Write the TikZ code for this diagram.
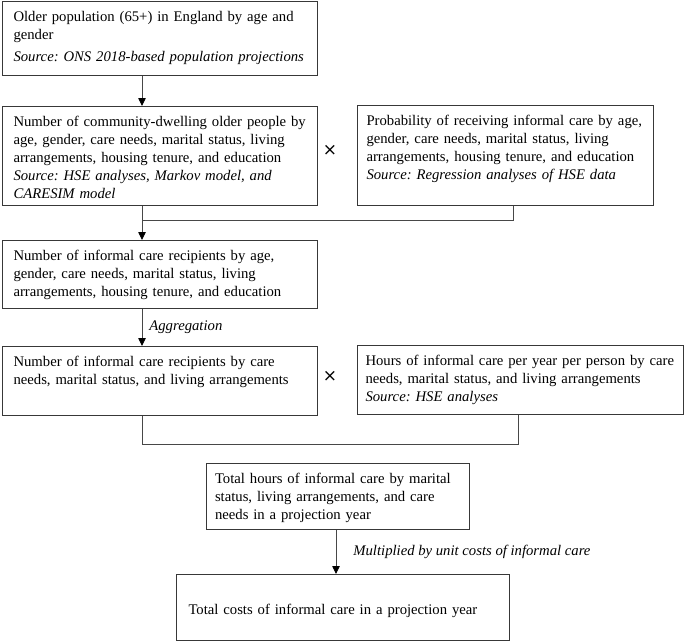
\documentclass[tikz,border=0pt]{standalone}
\usepackage{fontspec}
\setmainfont{Liberation Serif}
\newfontfamily\symfont{DejaVu Sans}
\frenchspacing
\usetikzlibrary{arrows.meta,positioning,calc}

\begin{document}
\begin{tikzpicture}[x=1pt, y=-1pt, >={Triangle[length=8pt,width=7.5pt,black]},
  blk/.style={draw=black!78, line width=1pt, anchor=north west, align=left,
    inner xsep=11pt, inner ysep=5pt, text height=15pt,
    font=\fontsize{14.7}{18}\selectfont},
  link/.style={draw=black!72, line width=0.8pt},
  note/.style={font=\fontsize{14.7}{18}\selectfont\itshape, anchor=west, inner sep=0pt},
  mult/.style={font=\fontsize{17}{17}\selectfont\symfont, inner sep=0pt}]
  \useasboundingbox (0,0) rectangle (685,641);
  \coordinate (spine) at (142,0);
  \coordinate (spinelow) at (336,0);
  \coordinate (dropA) at (513,0);
  \coordinate (dropB) at (518,0);
  \coordinate (join1) at (142,220);
  \coordinate (join2) at (142,444);
  % left column
  \node[blk, text width=293pt, text depth=49pt] (pop) at (2,1)
    {Older population (65+) in England by age and\\ gender\\[4pt]
     \textit{Source: ONS 2018-based population projections}};
  \node[blk, text width=293pt, text depth=74pt] (comm) at (2,106)
    {Number of community-dwelling older people by\\
     age, gender, care needs, marital status, living\\
     arrangements, housing tenure, and education\\
     \textit{Source: HSE analyses, Markov model, and}\\
     \textit{CARESIM model}};
  \node[blk, text width=293pt, text depth=43pt] (recip) at (2,240)
    {Number of informal care recipients by age,\\
     gender, care needs, marital status, living\\
     arrangements, housing tenure, and education};
  \node[blk, text width=293pt, text depth=44pt] (agg) at (2,346)
    {Number of informal care recipients by care\\
     needs, marital status, and living arrangements};
  % right column
  \node[blk, inner xsep=9pt, text width=278pt, text depth=75pt] (prob) at (357,105)
    {Probability of receiving informal care by age,\\
     gender, care needs, marital status, living\\
     arrangements, housing tenure, and education\\
     \textit{Source: Regression analyses of HSE data}};
  \node[blk, inner xsep=8pt, text width=310pt, text depth=44pt] (hrs) at (357,345)
    {Hours of informal care per year per person by care\\
     needs, marital status, and living arrangements\\
     \textit{Source: HSE analyses}};
  % bottom
  \node[blk, inner xsep=8.5pt, text width=246pt, text depth=41pt] (tot) at (206,463)
    {\makebox[246pt][s]{Total hours of informal care by marital}\\
     \makebox[246pt][s]{status, living arrangements, and care}\\
     needs in a projection year};
  \node[blk, inner xsep=12pt, text width=309pt, text height=35pt, text depth=21pt] (cost) at (176,574)
    {Total costs of informal care in a projection year};
  \node[mult] (x1) at (330,150) {×};
  \node[mult] (x2) at (330,376) {×};
  % connectors
  \draw[link,->] (pop.south -| spine) -- (comm.north -| spine);
  \draw[link,->] (comm.south -| spine) -- (recip.north -| spine);
  \draw[link] (prob.south -| dropA) |- (join1);
  \draw[link,->] (recip.south -| spine) --
    node[note, xshift=7pt] (aggtxt) {Aggregation} (agg.north -| spine);
  \draw[link] (agg.south -| spine) -- (join2) -| (hrs.south -| dropB);
  \draw[link,->] (tot.south -| spinelow) --
    node[note, xshift=17pt] (unittxt) {Multiplied by unit costs of informal care} (cost.north -| spinelow);
\end{tikzpicture}
\end{document}
